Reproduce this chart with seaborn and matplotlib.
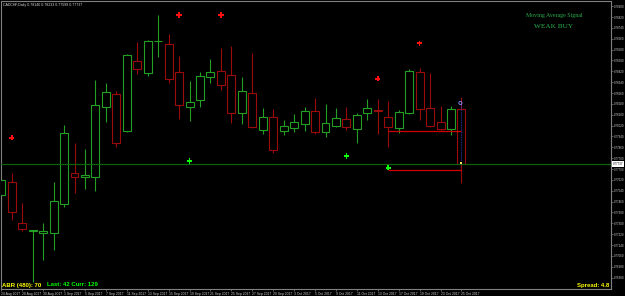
import numpy as np
import pandas as pd
import matplotlib
matplotlib.use("Agg")
import matplotlib.pyplot as plt
import matplotlib.transforms as mtransforms
import seaborn as sns

# ---------------- data ----------------
symbol_title = "CADCHF,Daily 0.78140 0.78233 0.77599 0.77737"

opens = [0.77509, 0.77602, 0.77300, 0.77247, 0.77226, 0.77226, 0.77446, 0.77668, 0.77643, 0.77639,
         0.78159, 0.78251, 0.77978, 0.78494, 0.78405, 0.78640, 0.78619, 0.78415, 0.78155, 0.78207,
         0.78376, 0.78422, 0.78391, 0.78111, 0.78258, 0.77988, 0.78081, 0.77980, 0.78002, 0.78032,
         0.78128, 0.77975, 0.78019, 0.78066, 0.77997, 0.78111, 0.78135, 0.78081, 0.78000, 0.78111,
         0.78413, 0.78148, 0.78047, 0.77993, 0.78140]
highs = [0.77634, 0.77673, 0.77447, 0.77254, 0.77304, 0.77602, 0.78022, 0.77894, 0.77850, 0.78356,
         0.78336, 0.78277, 0.78548, 0.78634, 0.78651, 0.78835, 0.78693, 0.78533, 0.78347, 0.78417,
         0.78509, 0.78590, 0.78607, 0.78380, 0.78557, 0.78148, 0.78142, 0.78061, 0.78106, 0.78155,
         0.78223, 0.78179, 0.78148, 0.78155, 0.78115, 0.78214, 0.78214, 0.78204, 0.78135, 0.78435,
         0.78447, 0.78405, 0.78165, 0.78165, 0.78233]
lows = [0.77420, 0.77324, 0.77245, 0.76870, 0.77030, 0.77103, 0.77420, 0.77525, 0.77556, 0.77538,
        0.78049, 0.77866, 0.77973, 0.78400, 0.78386, 0.78528, 0.78336, 0.78066, 0.78056, 0.78155,
        0.78332, 0.78282, 0.78041, 0.78032, 0.78000, 0.77958, 0.77818, 0.77951, 0.77973, 0.77980,
        0.77958, 0.77934, 0.78013, 0.77988, 0.77894, 0.78061, 0.77958, 0.77865, 0.77968, 0.78103,
        0.78061, 0.78008, 0.77988, 0.77951, 0.77599]
closes = [0.77619, 0.77381, 0.77256, 0.77252, 0.77243, 0.77462, 0.77963, 0.77639, 0.77658, 0.78172,
          0.78270, 0.77890, 0.78540, 0.78435, 0.78646, 0.78644, 0.78361, 0.78170, 0.78192, 0.78388,
          0.78415, 0.78317, 0.78111, 0.78277, 0.78012, 0.78081, 0.77840, 0.78017, 0.78044, 0.78125,
          0.77975, 0.78037, 0.78074, 0.78008, 0.78100, 0.78148, 0.78130, 0.78008, 0.78118, 0.78420,
          0.78145, 0.78019, 0.77993, 0.78140, 0.77737]

date_labels = ["24 Aug 2017", "28 Aug 2017", "30 Aug 2017", "1 Sep 2017", "5 Sep 2017",
               "7 Sep 2017", "11 Sep 2017", "13 Sep 2017", "15 Sep 2017", "19 Sep 2017",
               "21 Sep 2017", "25 Sep 2017", "27 Sep 2017", "29 Sep 2017", "3 Oct 2017",
               "5 Oct 2017", "9 Oct 2017", "11 Oct 2017", "13 Oct 2017", "17 Oct 2017",
               "19 Oct 2017", "23 Oct 2017", "25 Oct 2017"]

sell_bars = [1, 17, 21, 36, 40]
sell_prices = [0.77931, 0.78835, 0.78835, 0.78366, 0.78627]
buy_bars = [18, 33, 37]
buy_prices = [0.77759, 0.77796, 0.77710]

level_prices = [0.77980, 0.77691]
level_start, level_end = 37, 44
bid_price = 0.77737
pivot_high = 0.78187

price_ticks = [round(0.7690 + 0.0008 * i, 4) for i in range(26)]

# ---------------- style ----------------
sns.set_theme(style="dark")
plt.rcParams["font.family"] = ["Liberation Sans", "DejaVu Sans"]

GREEN = "#23a023"
RED = "#9a0c0c"
GRID = "#808080"

fig = plt.figure(figsize=(6.25, 2.96), dpi=100, facecolor="black")
W, H = 625, 296
ax = fig.add_axes([1 / W, 1 - 289 / H, 610 / W, 288.5 / H])
ax.set_facecolor("black")

df = pd.DataFrame({"idx": np.arange(len(opens)), "open": opens, "high": highs,
                   "low": lows, "close": closes})
df["bull"] = df["close"] >= df["open"]
colors = [GREEN if b else RED for b in df["bull"]]

# wicks
ax.vlines(df["idx"], df["low"], df["high"], colors=colors, lw=0.8, zorder=2)
# hollow bodies
ax.bar(df["idx"], (df["close"] - df["open"]).abs(),
       bottom=df[["open", "close"]].min(axis=1), width=0.76,
       facecolor="black", edgecolor=colors, linewidth=0.8, zorder=3)

# bid line
ax.axhline(bid_price, color="#0b620b", lw=0.9, zorder=4)
# red levels
ax.hlines(level_prices, level_start, level_end, colors="#d00000", lw=0.9, zorder=4)
# blue dotted vertical on the last bar
ax.vlines([level_end], bid_price, pivot_high, colors="#3a3ad0", lw=0.6,
          linestyles=(0, (1, 1)), zorder=5)

sig = pd.DataFrame({"idx": sell_bars + buy_bars,
                    "price": sell_prices + buy_prices,
                    "kind": ["sell"] * len(sell_bars) + ["buy"] * len(buy_bars)})
sns.scatterplot(data=sig, x="idx", y="price", hue="kind",
                palette={"sell": "#ff1010", "buy": "#10ff10"},
                marker="P", s=14, linewidth=0, legend=False, ax=ax, zorder=6)
sns.scatterplot(x=[level_end - 0.1], y=[pivot_high], marker="o", s=5,
                facecolor="none", edgecolor="#9090ff", linewidth=0.6, ax=ax, zorder=6)
sns.scatterplot(x=[level_end], y=[bid_price + 0.0001], marker="s", s=3,
                color="#ffe060", linewidth=0, ax=ax, zorder=6)

# limits
ax.set_xlim(-0.03, 58.3)
ax.set_ylim(0.76816, 0.78942)
ax.set_xlabel("")
ax.set_ylabel("")

# axes / ticks
ax.yaxis.tick_right()
ax.set_yticks(price_ticks)
ax.set_yticklabels([f"{v:.5f}" for v in price_ticks])
ax.set_xticks(list(range(0, len(opens), 2)))
ax.set_xticklabels(date_labels, ha="left")
ax.tick_params(axis="y", which="both", length=1.5, width=0.5, color=GRID,
               labelsize=2.1, labelcolor="#d0d0d0", pad=0.6, right=True, left=False)
ax.tick_params(axis="x", which="both", length=1.5, width=0.5, color=GRID,
               labelsize=2.4, labelcolor="#d0d0d0", pad=0.8, bottom=True)
ax.grid(False)
for s in ax.spines.values():
    s.set_visible(True)
    s.set_color(GRID)
    s.set_linewidth(0.8)

# current price tag
trans = mtransforms.blended_transform_factory(ax.transAxes, ax.transData)
ax.text(1.003, bid_price, f"{bid_price:.5f}", transform=trans, fontsize=2.1,
        color="black", ha="left", va="center", zorder=7,
        bbox=dict(boxstyle="square,pad=0.2", facecolor="white", edgecolor="none"),
        clip_on=False)

# texts
fig.text(3 / W, 1 - 5 / H, symbol_title, fontsize=2.6, color="#d8d8d8",
         ha="left", va="center")
fig.text(554 / W, 1 - 16 / H, "Moving Average Signal", fontsize=4.2,
         color="#2bb34e", ha="center", va="center", family=["Liberation Serif"])
fig.text(554 / W, 1 - 26 / H, "WEAK BUY", fontsize=5.2,
         color="#2bb34e", ha="center", va="center", family=["Liberation Serif"])
fig.text(2 / W, 1 - 285 / H, "ABR (480): 70", fontsize=4.3, color="#ffff00",
         fontweight="bold", ha="left", va="center")
fig.text(47 / W, 1 - 285 / H, "Last: 42 Curr: 129", fontsize=4.3, color="#00ff00",
         fontweight="bold", ha="left", va="center")
fig.text(609 / W, 1 - 285 / H, "Spread: 4.8", fontsize=4.3, color="#ffff00",
         fontweight="bold", ha="right", va="center")

fig.savefig("out.png", dpi=100, facecolor="black")
